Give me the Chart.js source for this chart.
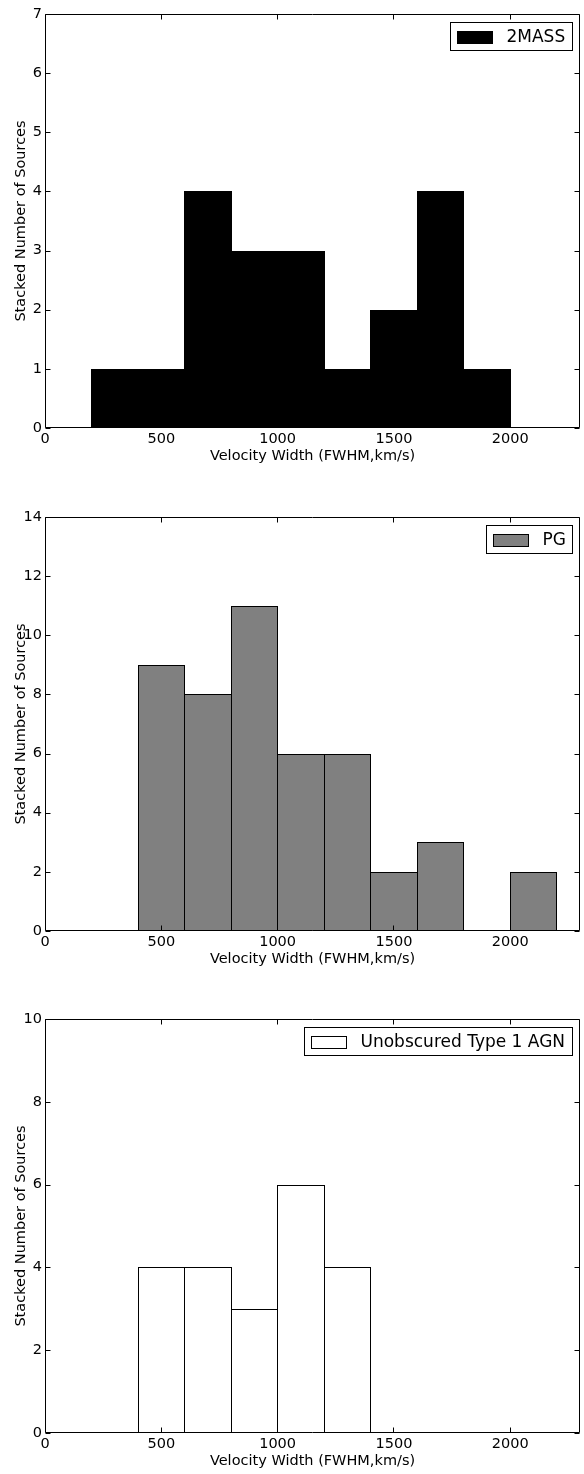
<!DOCTYPE html>
<html>
<head>
<meta charset="utf-8">
<script src="https://cdn.jsdelivr.net/npm/chart.js@4/dist/chart.umd.min.js"></script>
<style>
  html, body { margin: 0; padding: 0; background: #fff; }
  body { width: 584px; height: 1474px; position: relative; overflow: hidden; }
  canvas { position: absolute; left: 0; }
</style>
</head>
<body>
<canvas id="c1" width="584" height="470" style="top:0px"></canvas>
<canvas id="c2" width="584" height="470" style="top:503px"></canvas>
<canvas id="c3" width="584" height="470" style="top:1005px"></canvas>
<script>
// ---- data ----
const binLeftEdges = [0, 200, 400, 600, 800, 1000, 1200, 1400, 1600, 1800, 2000];
const binWidth = 200;
const counts2MASS = [0, 1, 1, 4, 3, 3, 1, 2, 4, 1, 0];
const countsPG = [0, 0, 9, 8, 11, 6, 6, 2, 3, 0, 2];
const countsType1 = [0, 0, 4, 4, 3, 6, 4, 0, 0, 0, 0];
const xTickValues = [0, 500, 1000, 1500, 2000];
const yTicks2MASS = [0, 1, 2, 3, 4, 5, 6, 7];
const yTicksPG = [0, 2, 4, 6, 8, 10, 12, 14];
const yTicksType1 = [0, 2, 4, 6, 8, 10];
const xLabel = 'Velocity Width (FWHM,km/s)';
const yLabel = 'Stacked Number of Sources';
const labels = ['2MASS', 'PG', 'Unobscured Type 1 AGN'];

const FONT = "'DejaVu Sans', 'Liberation Sans', sans-serif";
const FS = 14.5;

// snap bar edges (computed by the library's scales) to whole pixels so that
// neighbouring bars share one 1px edge line, as in the original histogram
const snapBarsPlugin = {
  id: 'snapBars',
  beforeDatasetsDraw(chart) {
    chart.getSortedVisibleDatasetMetas().forEach(meta => {
      meta.data.forEach(el => {
        const l = Math.floor(el.x - el.width / 2);
        const r = Math.floor(el.x + el.width / 2) + 1;
        el.x = (l + r) / 2;
        el.width = r - l;
        el.y = Math.round(el.y);
        el.base = Math.round(el.base);
      });
    });
  }
};

const frameTicksPlugin = {
  id: 'frameTicks',
  afterDatasetsDraw(chart) {
    const ctx = chart.ctx;
    const {left, right, top, bottom} = chart.chartArea;
    const x = chart.scales.x, y = chart.scales.y;
    ctx.save();
    ctx.strokeStyle = '#000';
    ctx.lineWidth = 1;
    ctx.beginPath();
    const L = Math.round(left) + 0.5, R = Math.round(right) - 0.5;
    const T = Math.round(top) + 0.5, B = Math.round(bottom) - 0.5;
    ctx.rect(L, T, R - L, B - T);
    x.ticks.forEach(t => {
      const px = Math.floor(x.getPixelForValue(t.value)) + 0.5;
      ctx.moveTo(px, B); ctx.lineTo(px, B - 5);
      ctx.moveTo(px, T); ctx.lineTo(px, T + 5);
    });
    y.ticks.forEach(t => {
      const py = Math.round(y.getPixelForValue(t.value)) + 0.5;
      ctx.moveTo(L, py); ctx.lineTo(L + 5, py);
      ctx.moveTo(R, py); ctx.lineTo(R - 5, py);
    });
    ctx.stroke();
    ctx.restore();
  },
  afterDraw(chart) {
    const ctx = chart.ctx;
    const {right, top} = chart.chartArea;
    const ds = chart.data.datasets[0];
    ctx.save();
    ctx.font = '17px ' + FONT;
    const tw = ctx.measureText(ds.label).width;
    const padL = 7, sw = 35, sh = 12, gap = 14, padR = 7, bh = 28;
    const bw = Math.round(padL + sw + gap + tw + padR);
    const bx = Math.round(right - 8 - bw) + 0.5;
    const by = Math.round(top + 8) + 0.5;
    ctx.fillStyle = '#fff';
    ctx.fillRect(bx, by, bw, bh);
    ctx.strokeStyle = '#000';
    ctx.lineWidth = 1;
    ctx.strokeRect(bx, by, bw, bh);
    const sx = bx + padL, sy = Math.round(by + bh / 2 - sh / 2) + 0.5;
    ctx.fillStyle = ds.backgroundColor;
    ctx.fillRect(sx, sy, sw, sh);
    ctx.strokeRect(sx, sy, sw, sh);
    ctx.fillStyle = '#000';
    ctx.textBaseline = 'middle';
    ctx.textAlign = 'left';
    ctx.fillText(ds.label, sx + sw + gap, by + bh / 2 + 1);
    ctx.restore();
  }
};

function makeChart(id, label, counts, fill, yMax, yTicks) {
  const data = binLeftEdges.map((e, i) => ({x: e + binWidth / 2, y: counts[i]}));
  return new Chart(document.getElementById(id), {
    type: 'bar',
    data: {
      datasets: [{
        label: label,
        data: data,
        backgroundColor: fill,
        borderColor: '#000',
        borderWidth: 1,
        borderSkipped: 'bottom',
        categoryPercentage: 1,
        barPercentage: 1,
        inflateAmount: 0
      }]
    },
    options: {
      responsive: false,
      animation: false,
      devicePixelRatio: 1,
      layout: {padding: {top: 14, right: 4, left: 0, bottom: 0}},
      plugins: {legend: {display: false}, tooltip: {enabled: false}},
      scales: {
        x: {
          type: 'linear',
          min: 0, max: 2300,
          offset: false,
          afterBuildTicks: s => { s.ticks = xTickValues.map(v => ({value: v})); },
          afterFit: s => { s.height = 42; },
          grid: {display: false, drawTicks: false},
          border: {display: false},
          ticks: {
            autoSkip: false, maxRotation: 0, padding: 3, color: '#000',
            font: {family: FONT, size: FS},
            callback: v => String(v)
          },
          title: {
            display: true, text: xLabel, color: '#000',
            font: {family: FONT, size: FS},
            padding: {top: 0, bottom: 5.3}
          }
        },
        y: {
          type: 'linear',
          min: 0, max: yMax,
          afterBuildTicks: s => { s.ticks = yTicks.map(v => ({value: v})); },
          afterFit: s => { s.width = 45; },
          grid: {display: false, drawTicks: false},
          border: {display: false},
          ticks: {
            autoSkip: false, padding: 3, color: '#000',
            font: {family: FONT, size: FS},
            callback: v => String(v)
          },
          title: {
            display: true, text: yLabel, color: '#000',
            font: {family: FONT, size: FS},
            padding: {top: 12.3, bottom: 0}
          }
        }
      }
    },
    plugins: [snapBarsPlugin, frameTicksPlugin]
  });
}

makeChart('c1', labels[0], counts2MASS, '#000000', 7, yTicks2MASS);
makeChart('c2', labels[1], countsPG, '#808080', 14, yTicksPG);
makeChart('c3', labels[2], countsType1, '#ffffff', 10, yTicksType1);
</script>
</body>
</html>
